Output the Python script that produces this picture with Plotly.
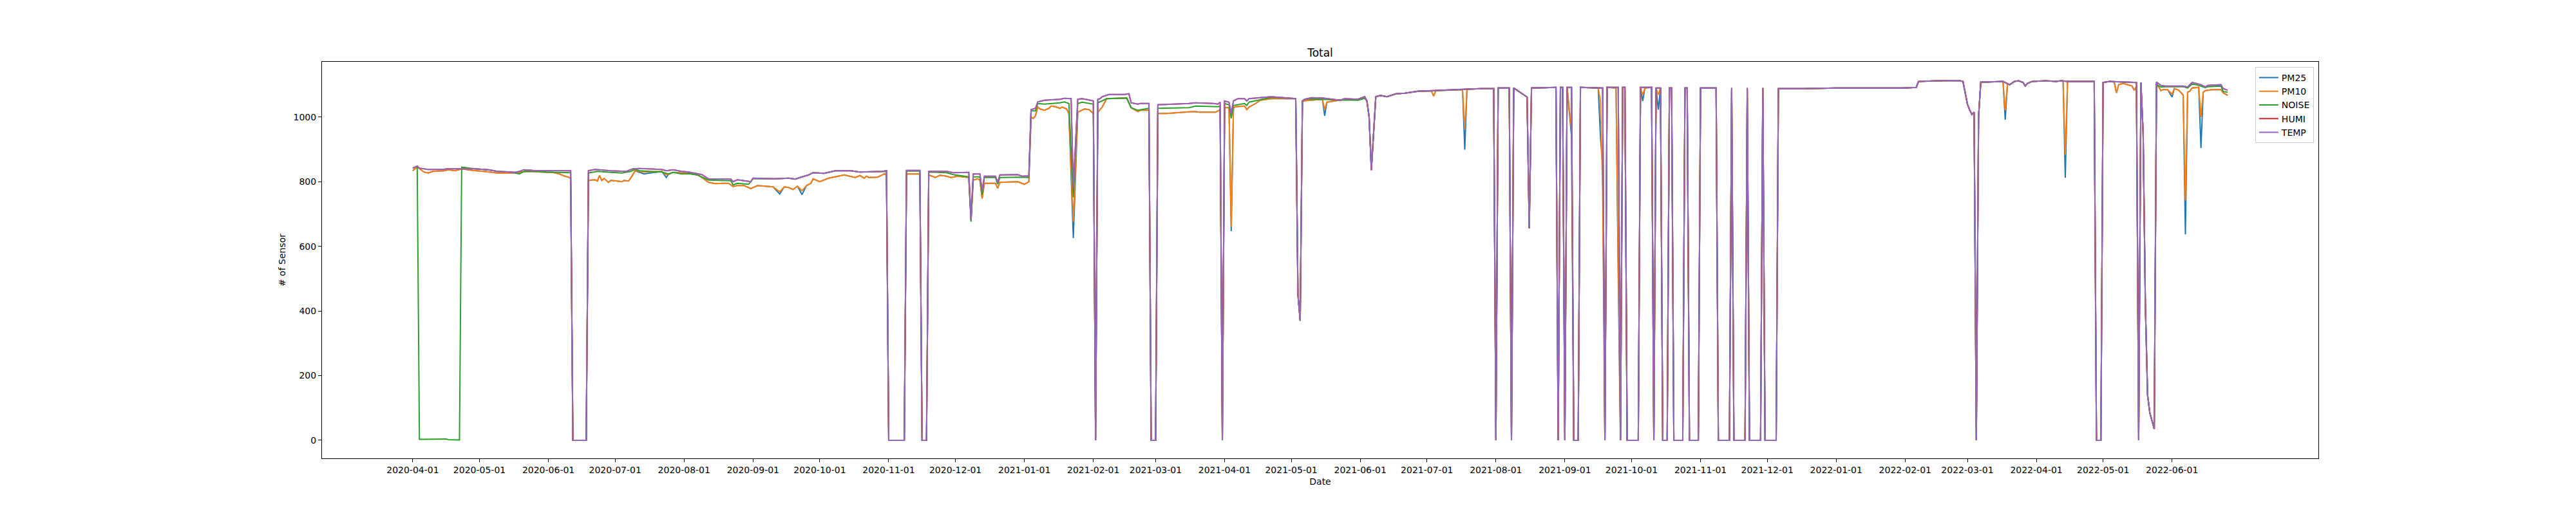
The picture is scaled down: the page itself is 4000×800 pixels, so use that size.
import pandas as pd
import plotly.graph_objects as go

START = "2020-04-01"

# (days since START, number of sensors)
TEMP_PTS = [
    (0, 842), (2, 848), (3, 842), (7, 838), (14, 838), (15, 840), (22, 840), (28, 840),
    (34, 837), (38, 832), (44, 830), (46, 829), (48, 832), (50, 837), (54, 835), (71, 834),
    (72, 0), (78, 0), (79, 834), (82, 838), (89, 834), (96, 832), (99, 840), (102, 841),
    (112, 838), (114, 834), (117, 837), (121, 832), (124, 830), (128, 824), (130, 822),
    (133, 809), (143, 808), (144, 800), (146, 806), (149, 803), (152, 800), (153, 811),
    (163, 809), (169, 811), (172, 808), (175, 815), (178, 821), (180, 828), (185, 826),
    (190, 834), (197, 834), (201, 830), (211, 832), (213, 834), (214, 0), (221, 0),
    (222, 835), (228, 835), (229, 0), (231, 0), (232, 832), (240, 832), (243, 828),
    (250, 829), (251, 683), (252, 824), (255, 824), (256, 771), (257, 817), (262, 817),
    (263, 798), (264, 821), (272, 822), (274, 817), (277, 818), (278, 1023), (280, 1027),
    (281, 1047), (284, 1052), (291, 1055), (293, 1058), (296, 1057), (297, 780), (299, 1055),
    (301, 1057), (304, 1053), (306, 1050), (307, 0), (308, 1055), (309, 1057), (310, 1063),
    (313, 1070), (320, 1070), (322, 1072), (323, 1044), (326, 1040), (327, 1042), (331, 1042),
    (332, 0), (334, 0), (335, 1038), (349, 1042), (352, 1044), (360, 1042), (362, 1040),
    (363, 1046), (364, 0), (365, 1050), (367, 1046), (368, 1011), (369, 1050), (371, 1057),
    (374, 1057), (375, 1050), (376, 1057), (386, 1063), (397, 1057), (398, 450), (399, 370),
    (400, 1050), (401, 1055), (404, 1060), (409, 1059), (417, 1052), (419, 1057), (425, 1055),
    (428, 1063), (429, 1050), (430, 1000), (431, 836), (433, 1063), (435, 1067), (438, 1063),
    (442, 1072), (446, 1074), (452, 1080), (460, 1082), (470, 1085), (480, 1088), (486, 1088),
    (487, 0), (488, 1090), (493, 1090), (494, 0), (495, 1090), (501, 1062), (502, 656),
    (503, 1090), (514, 1092), (515, 0), (516, 1092), (517, 1092), (518, 0), (519, 1092),
    (521, 1092), (522, 0), (524, 0), (525, 1092), (535, 1090), (536, 0), (537, 1092),
    (542, 1092), (543, 0), (544, 1092), (545, 1092), (546, 0), (551, 0), (552, 1092),
    (557, 1092), (558, 0), (559, 1090), (561, 1090), (562, 0), (564, 0), (565, 1090),
    (566, 1090), (567, 0), (571, 0), (572, 1090), (573, 1090), (574, 0), (578, 0),
    (579, 1090), (586, 1090), (587, 0), (592, 0), (593, 1090), (594, 0), (599, 0),
    (600, 1090), (601, 0), (606, 0), (607, 1090), (608, 0), (613, 0), (614, 1088),
    (625, 1088), (640, 1090), (655, 1090), (670, 1090), (676, 1092), (677, 1110),
    (685, 1112), (695, 1113), (697, 1110), (698, 1076), (699, 1040), (700, 1022),
    (701, 1008), (702, 1015), (703, 0), (704, 1000), (705, 1108), (715, 1110), (718, 1100),
    (720, 1110), (722, 1112), (724, 1107), (725, 1096), (726, 1104), (728, 1110),
    (734, 1112), (739, 1110), (741, 1112), (744, 1110), (756, 1110), (757, 0), (759, 0),
    (760, 1107), (763, 1110), (775, 1107), (776, 0), (777, 1107), (778, 950), (779, 420),
    (780, 140), (781, 85), (782, 60), (783, 35), (784, 1108), (786, 1098), (788, 1096),
    (796, 1096), (798, 1093), (800, 1107), (802, 1104), (804, 1100), (806, 1093),
    (807, 1098), (813, 1100), (814, 1088), (816, 1083),
]

# red line is hidden under the purple one for the whole period
HUMI_PTS = TEMP_PTS

# NOISE has its own path until mid April 2021, then runs with TEMP
NOISE_2020 = [
    (0, 842), (2, 848), (3, 3), (15, 4), (16, 2), (21, 1), (22, 845), (28, 840), (34, 837),
    (38, 832), (44, 830), (48, 824), (50, 832), (54, 833), (60, 830), (71, 828), (72, 0),
    (78, 0), (79, 827), (83, 832), (89, 829), (94, 827), (98, 832), (100, 838), (102, 834),
    (112, 830), (115, 824), (117, 829), (121, 824), (124, 825), (128, 821), (133, 805),
    (143, 803), (144, 790), (146, 795), (151, 792), (153, 809), (163, 809), (169, 811),
    (172, 808), (175, 815), (178, 821), (180, 828), (185, 826), (190, 834), (197, 834),
    (201, 830), (211, 832), (213, 832), (214, 0), (221, 0), (222, 833), (228, 833), (229, 0),
    (231, 0), (232, 830), (240, 828), (243, 822), (250, 815), (251, 676), (252, 815),
    (255, 815), (256, 760), (257, 813), (262, 813), (263, 792), (264, 813), (272, 814),
    (277, 813), (278, 1019), (280, 1019), (281, 1042), (284, 1040), (291, 1044), (293, 1047),
    (295, 1042), (297, 752), (299, 1042), (301, 1046), (306, 1040), (307, 0), (308, 1044),
    (312, 1057), (321, 1059), (323, 1029), (326, 1021), (331, 1027), (332, 0), (334, 0),
    (335, 1027), (349, 1029), (352, 1034), (362, 1032), (363, 1034), (364, 0), (365, 1042),
    (367, 1038), (368, 996), (369, 1036), (374, 1042), (375, 1036), (376, 1046), (380, 1052),
    (386, 1061),
]
NOISE_FIX = {
    404: 1056, 409: 1055, 419: 1053, 425: 1052, 428: 1058,
    784: 1100, 786: 1093, 788: 1094, 796: 1094, 798: 1090, 800: 1102, 802: 1100,
    804: 1096, 806: 1091, 807: 1094, 813: 1096, 814: 1079, 816: 1077,
}

PM10_2020 = [
    (0, 834), (2, 846), (5, 830), (7, 827), (9, 832), (14, 834), (16, 837), (19, 834),
    (22, 840), (27, 835), (32, 832), (38, 827), (44, 827), (48, 829), (52, 832), (58, 830),
    (63, 829), (66, 824), (68, 818), (70, 814), (71, 810), (72, 0), (78, 0), (79, 804),
    (82, 806), (83, 802), (84, 819), (85, 804), (86, 810), (88, 798), (89, 804), (92, 802),
    (94, 800), (95, 804), (97, 802), (98, 811), (100, 834), (104, 830), (112, 832),
    (114, 821), (115, 823), (117, 829), (124, 826), (128, 821), (130, 813), (133, 798),
    (136, 794), (140, 795), (142, 795), (144, 785), (146, 788), (149, 788), (152, 779),
    (155, 788), (162, 784), (165, 769), (167, 784), (169, 782), (171, 776), (173, 786),
    (175, 772), (177, 788), (179, 795), (180, 809), (183, 800), (187, 811), (194, 821),
    (199, 813), (201, 819), (203, 811), (204, 817), (205, 813), (209, 814), (212, 824),
    (213, 823), (214, 0), (221, 0), (222, 824), (228, 824), (229, 0), (231, 0), (232, 821),
    (235, 813), (237, 820), (240, 817), (242, 813), (245, 817), (250, 813), (251, 680),
    (252, 805), (254, 809), (255, 805), (256, 748), (257, 795), (262, 795), (263, 780),
    (264, 798), (272, 800), (275, 792), (277, 800), (278, 1000), (279, 996), (280, 1004),
    (281, 1031), (282, 1025), (284, 1021), (286, 1027), (287, 1034), (289, 1032), (291, 1027),
    (292, 1031), (294, 1025), (295, 1011), (297, 676), (299, 1015), (302, 1025), (304, 1023),
    (306, 1011), (307, 0), (308, 1015), (310, 1031), (312, 1057), (321, 1059), (323, 1029),
    (326, 1017), (327, 1021), (331, 1021), (332, 0), (334, 0), (335, 1011), (339, 1011),
    (347, 1015), (351, 1017), (354, 1015), (361, 1015), (363, 1023), (364, 0), (365, 1029),
    (367, 1029), (368, 660), (369, 1029), (370, 1032), (374, 1034), (375, 1023), (376, 1031),
    (379, 1042), (381, 1052), (386, 1057), (397, 1057), (398, 450), (399, 370), (400, 1050),
    (409, 1055), (410, 1023), (411, 1046), (419, 1055),
]
PM10_2022 = [
    (784, 1104), (786, 1082), (787, 1085), (789, 1085), (791, 1071), (792, 1088), (794, 1083),
    (795, 1075), (796, 1068), (797, 742), (798, 1077), (799, 1080), (800, 1090), (803, 1092),
    (804, 1000), (805, 1077), (806, 1082), (809, 1085), (813, 1085), (814, 1075), (816, 1067),
]
PM10_DIPS = {
    458: 1081, 459: 1065, 472: 1085, 473: 962, 474: 1086, 521: 960, 533: 1090, 534: 1050,
    535: 771, 541: 1090, 542: 550, 553: 1069, 554: 1090, 560: 1069, 716: 1021, 717: 1102,
    742: 1112, 743: 883, 765: 1108, 766: 1075, 767: 1100, 769: 1104, 773: 1096, 774: 1083,
    775: 1095,
}
# PM25 follows PM10 except where the blue line pokes out below it
PM25_DIPS = {
    104: 824, 114: 813, 165: 762, 175: 760, 297: 626, 368: 647, 410: 1004, 473: 899,
    521: 940, 534: 939, 535: 847, 542: 500, 553: 1050, 560: 1023, 716: 992, 743: 812,
    791: 1062, 797: 637, 804: 904,
}

TICK_LABELS = [
    "2020-04-01", "2020-05-01", "2020-06-01", "2020-07-01", "2020-08-01", "2020-09-01",
    "2020-10-01", "2020-11-01", "2020-12-01", "2021-01-01", "2021-02-01", "2021-03-01",
    "2021-04-01", "2021-05-01", "2021-06-01", "2021-07-01", "2021-08-01", "2021-09-01",
    "2021-10-01", "2021-11-01", "2021-12-01", "2022-01-01", "2022-02-01", "2022-03-01",
    "2022-04-01", "2022-05-01", "2022-06-01",
]
Y_TICKS = [0, 200, 400, 600, 800, 1000]

COLORS = {
    "PM25": "#1f77b4",
    "PM10": "#ff7f0e",
    "NOISE": "#2ca02c",
    "HUMI": "#d62728",
    "TEMP": "#9467bd",
}


def pick(pts, lo, hi):
    return [p for p in pts if lo <= p[0] < hi]


def patch(pts, fixes):
    d = dict(pts)
    d.update(fixes)
    return sorted(d.items())


def to_xy(pts):
    days, vals = zip(*pts)
    x = pd.Timestamp(START) + pd.to_timedelta(list(days), unit="D")
    return x, list(vals)


NOISE_PTS = patch(NOISE_2020 + pick(TEMP_PTS, 397, 10000), NOISE_FIX)
PM10_PTS = patch(PM10_2020 + pick(TEMP_PTS, 420, 784) + PM10_2022, PM10_DIPS)
PM25_PTS = patch(PM10_PTS, PM25_DIPS)

series = [
    ("PM25", PM25_PTS),
    ("PM10", PM10_PTS),
    ("NOISE", NOISE_PTS),
    ("HUMI", HUMI_PTS),
    ("TEMP", TEMP_PTS),
]

FONT = "DejaVu Sans"

fig = go.Figure()
for name, pts in series:
    x, y = to_xy(pts)
    fig.add_trace(go.Scatter(x=x, y=y, mode="lines", name=name,
                             line=dict(color=COLORS[name], width=2)))

start = pd.Timestamp(START)
x_lo = (start + pd.Timedelta(days=-40.8)).strftime("%Y-%m-%d %H:%M:%S")
x_hi = (start + pd.Timedelta(days=856.8)).strftime("%Y-%m-%d %H:%M:%S")

axis_style = dict(
    showline=True, mirror=True, linecolor="black", linewidth=1,
    ticks="outside", ticklen=5, tickwidth=1, tickcolor="black",
    showgrid=False, zeroline=False,
    tickfont=dict(family=FONT, size=14, color="black"),
)

# the html page adds ~8px of body margin, so margins are nudged up/left
fig.update_layout(
    width=4000,
    height=800,
    margin=dict(l=492, r=408, t=88, b=96),
    paper_bgcolor="white",
    plot_bgcolor="white",
    font=dict(family=FONT, size=14, color="black"),
    title=dict(text="Total", x=0.5, xref="paper", y=0.9075, yref="container",
               yanchor="middle", font=dict(family=FONT, size=17, color="black")),
    legend=dict(x=0.9977, y=0.987, xanchor="right", yanchor="top",
                bgcolor="rgba(255,255,255,0.8)", bordercolor="#cccccc", borderwidth=1,
                font=dict(family=FONT, size=14, color="black")),
    xaxis=dict(axis_style, range=[x_lo, x_hi], tickvals=TICK_LABELS, ticktext=TICK_LABELS,
               title=dict(text="Date", standoff=6, font=dict(family=FONT, size=14))),
    yaxis=dict(axis_style, range=[-56, 1171], tickvals=Y_TICKS,
               title=dict(text="# of Sensor", standoff=8, font=dict(family=FONT, size=14))),
)

fig.write_html("out.html")
